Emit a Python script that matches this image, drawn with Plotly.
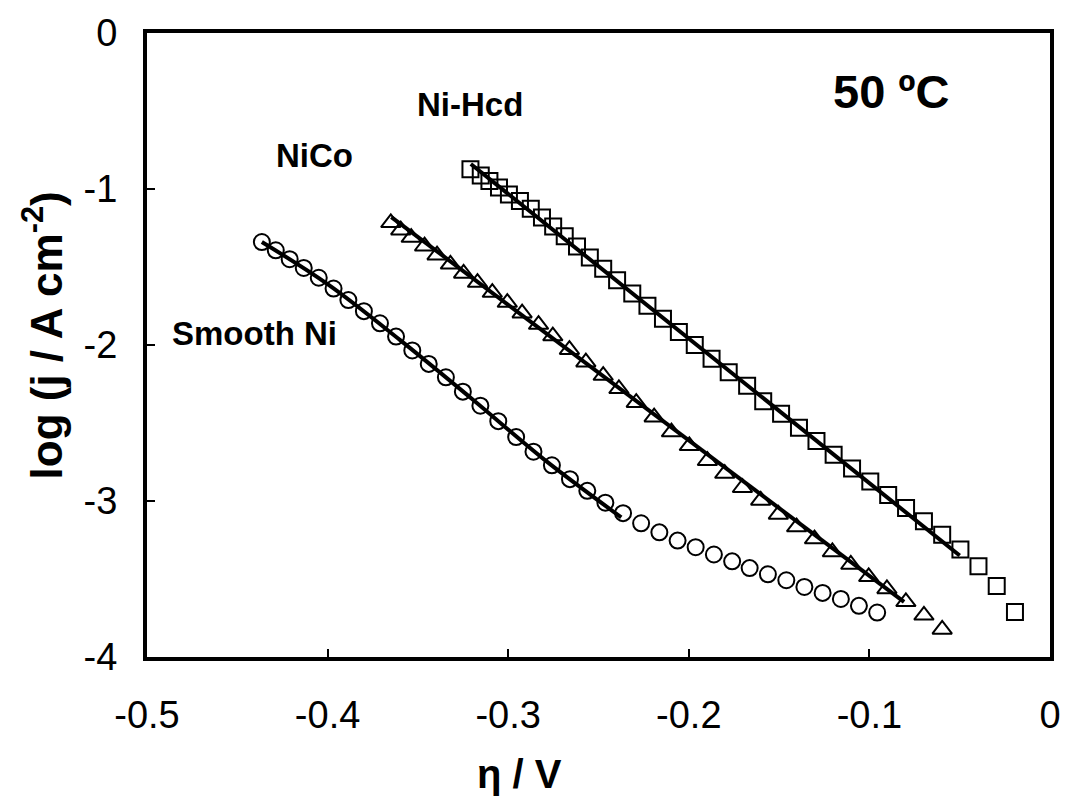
import plotly.graph_objects as go

# ---------------- data ----------------
smooth_eta = [-0.4364, -0.4287, -0.4210, -0.4132, -0.4049, -0.3967, -0.3885, -0.3799,
              -0.3710, -0.3621, -0.3531, -0.3440, -0.3345, -0.3251, -0.3154, -0.3055,
              -0.2956, -0.2860, -0.2758, -0.2658, -0.2562, -0.2462, -0.2364, -0.2264,
              -0.2163, -0.2062, -0.1962, -0.1861, -0.1760, -0.1663, -0.1562, -0.1460,
              -0.1360, -0.1259, -0.1158, -0.1058, -0.0957]
smooth_logj = [-1.340, -1.393, -1.450, -1.506, -1.569, -1.638, -1.712, -1.783,
               -1.861, -1.946, -2.035, -2.121, -2.207, -2.299, -2.389, -2.488,
               -2.590, -2.684, -2.771, -2.860, -2.935, -3.011, -3.078, -3.143,
               -3.201, -3.254, -3.296, -3.343, -3.387, -3.430, -3.470, -3.508,
               -3.551, -3.589, -3.628, -3.672, -3.715]

nico_eta = [-0.3650, -0.3595, -0.3537, -0.3463, -0.3394, -0.3320, -0.3247, -0.3170,
            -0.3088, -0.3005, -0.2923, -0.2832, -0.2753, -0.2661, -0.2570, -0.2474,
            -0.2387, -0.2291, -0.2192, -0.2096, -0.1997, -0.1897, -0.1801, -0.1703,
            -0.1602, -0.1504, -0.1403, -0.1304, -0.1205, -0.1103, -0.1004, -0.0903,
            -0.0798, -0.0698, -0.0597]
nico_logj = [-1.217, -1.264, -1.311, -1.367, -1.424, -1.483, -1.541, -1.600,
             -1.664, -1.728, -1.796, -1.869, -1.943, -2.030, -2.110, -2.196,
             -2.281, -2.370, -2.463, -2.558, -2.646, -2.742, -2.824, -2.915,
             -2.996, -3.086, -3.167, -3.244, -3.327, -3.407, -3.486, -3.564,
             -3.646, -3.733, -3.823]

hcd_eta = [-0.3209, -0.3152, -0.3104, -0.3051, -0.2996, -0.2935, -0.2875, -0.2813,
           -0.2751, -0.2687, -0.2619, -0.2548, -0.2474, -0.2397, -0.2313, -0.2229,
           -0.2143, -0.2055, -0.1967, -0.1874, -0.1779, -0.1677, -0.1588, -0.1489,
           -0.1390, -0.1293, -0.1198, -0.1096, -0.0995, -0.0896, -0.0797, -0.0698,
           -0.0597, -0.0496, -0.0396, -0.0295, -0.0194]
hcd_logj = [-0.874, -0.914, -0.949, -0.991, -1.035, -1.077, -1.127, -1.182,
            -1.241, -1.303, -1.368, -1.439, -1.512, -1.585, -1.670, -1.748,
            -1.831, -1.916, -2.000, -2.088, -2.174, -2.262, -2.360, -2.441,
            -2.531, -2.616, -2.703, -2.791, -2.875, -2.961, -3.045, -3.130,
            -3.217, -3.311, -3.418, -3.545, -3.711]

# fitted (Tafel) lines
smooth_fit_eta = [-0.4364, -0.40, -0.36, -0.32, -0.28, -0.2374]
smooth_fit_logj = [-1.340, -1.610, -1.967, -2.346, -2.735, -3.105]
nico_fit_eta = [-0.3647, -0.0808]
nico_fit_logj = [-1.180, -3.647]
hcd_fit_eta = [-0.3207, -0.0500]
hcd_fit_logj = [-0.840, -3.349]

x_ticks = [-0.5, -0.4, -0.3, -0.2, -0.1, 0]
x_tick_labels = ["-0.5", "-0.4", "-0.3", "-0.2", "-0.1", "0"]
y_ticks = [-4, -3, -2, -1, 0]
y_tick_labels = ["-4", "-3", "-2", "-1", "0"]

FONT = "Arial, 'Liberation Sans', sans-serif"

fig = go.Figure()

marker_line = dict(width=2, color="black")
fig.add_trace(go.Scatter(x=smooth_eta, y=smooth_logj, mode="markers",
                         marker=dict(symbol="circle-open", size=16, color="black", line=marker_line),
                         name="Smooth Ni"))
fig.add_trace(go.Scatter(x=nico_eta, y=nico_logj, mode="markers",
                         marker=dict(symbol="triangle-up-open", size=17, color="black", line=marker_line),
                         name="NiCo"))
fig.add_trace(go.Scatter(x=hcd_eta, y=hcd_logj, mode="markers",
                         marker=dict(symbol="square-open", size=16, color="black", line=marker_line),
                         name="Ni-Hcd"))

for fx, fy in [(smooth_fit_eta, smooth_fit_logj), (nico_fit_eta, nico_fit_logj),
               (hcd_fit_eta, hcd_fit_logj)]:
    fig.add_trace(go.Scatter(x=fx, y=fy, mode="lines", line=dict(color="black", width=4),
                             line_shape="spline", showlegend=False))

annotations = [
    dict(text="<b>Ni-Hcd</b>", x=-0.3214, y=-0.459, size=33),
    dict(text="<b>NiCo</b>", x=-0.4071, y=-0.785, size=33),
    dict(text="<b>Smooth Ni</b>", x=-0.4407, y=-1.927, size=33),
    dict(text="<b>50 ºC</b>", x=-0.0879, y=-0.375, size=47),
]
for a in annotations:
    fig.add_annotation(x=a["x"], y=a["y"], xref="x", yref="y", text=a["text"],
                       xanchor="center", yanchor="middle",
                       showarrow=False, font=dict(family=FONT, size=a["size"], color="black"))

# axis titles
fig.add_annotation(x=0.413, y=-0.188, xref="paper", yref="paper", showarrow=False,
                   xanchor="center", yanchor="middle",
                   text="<b>η / V</b>", font=dict(family=FONT, size=40, color="black"))
fig.add_annotation(x=-0.1154, y=0.515, xref="paper", yref="paper", showarrow=False,
                   xanchor="center", yanchor="middle",
                   textangle=-90, text="<b>log (j / A cm<sup>-2</sup>)</b>",
                   font=dict(family=FONT, size=44, color="black"))

axis_common = dict(showline=True, linewidth=4, linecolor="black", mirror=True,
                   ticks="inside", ticklen=8, tickwidth=1.5, tickcolor="black",
                   showgrid=False, zeroline=False,
                   tickfont=dict(family=FONT, size=38, color="black"))

fig.update_xaxes(range=[-0.5, 0], tickvals=x_ticks, ticktext=x_tick_labels,
                 ticklabelstandoff=21, **axis_common)
fig.update_yaxes(range=[-4, 0], tickvals=y_ticks, ticktext=y_tick_labels,
                 ticklabelstandoff=18, **axis_common)

fig.update_layout(width=1073, height=807, showlegend=False,
                  margin=dict(l=147, r=16, t=30, b=150),
                  paper_bgcolor="white", plot_bgcolor="white",
                  font=dict(family=FONT, color="black"))

fig.write_html("out.html")
